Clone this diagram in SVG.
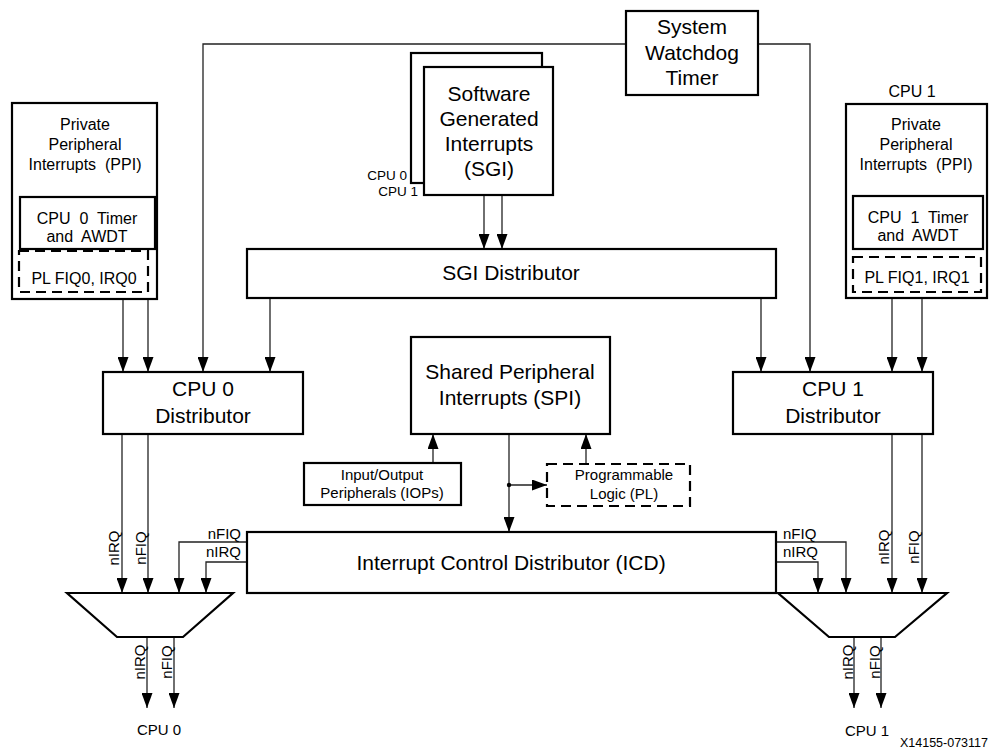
<svg xmlns="http://www.w3.org/2000/svg" width="990" height="750" viewBox="0 0 990 750">
<defs>
<marker id="ah" markerUnits="userSpaceOnUse" markerWidth="15" markerHeight="11" viewBox="0 0 15 11" refX="15" refY="5.5" orient="auto">
<path d="M0,0 L15,5.5 L0,11 z" fill="#000"/>
</marker>
<style>
.box{fill:#fff;stroke:#000;stroke-width:2.2}
.dash{fill:none;stroke:#000;stroke-width:2.2;stroke-dasharray:10,6}
.ln{fill:none;stroke:#222;stroke-width:1.3}
.ar{fill:none;stroke:#222;stroke-width:1.3;marker-end:url(#ah)}
text{font-family:"Liberation Sans",Arial,sans-serif;fill:#000}
.big{font-size:21px;text-anchor:middle}
.ppi{font-size:16px;text-anchor:middle}
.sm{font-size:15px}
.cpu{font-size:13.5px;text-anchor:end}
.mid{text-anchor:middle}
.end{text-anchor:end}
</style>
</defs>
<rect width="990" height="750" fill="#fff"/>

<g id="connectors">
<path class="ar" d="M123,299 V372"/>
<path class="ar" d="M148,299 V372"/>
<path class="ar" d="M626,44 H203 V372"/>
<path class="ar" d="M758,44 H810 V372"/>
<path class="ar" d="M484,195 V249"/>
<path class="ar" d="M502,195 V249"/>
<path class="ar" d="M270,298 V372"/>
<path class="ar" d="M761,298 V372"/>
<path class="ar" d="M892,298 V372"/>
<path class="ar" d="M922,298 V372"/>
<path class="ar" d="M122,434 V593"/>
<path class="ar" d="M148,434 V593"/>
<path class="ar" d="M247,542 H179 V593"/>
<path class="ar" d="M247,562 H206 V593"/>
<path class="ar" d="M776,542 H846 V593"/>
<path class="ar" d="M776,562 H818 V593"/>
<path class="ar" d="M892,434 V593"/>
<path class="ar" d="M922,434 V593"/>
<path class="ar" d="M147,637 V708"/>
<path class="ar" d="M174,637 V708"/>
<path class="ar" d="M854,637 V708"/>
<path class="ar" d="M881,637 V708"/>
<path class="ar" d="M433,463 V434"/>
<path class="ar" d="M586,463 V434"/>
<path class="ar" d="M509,434 V532"/>
<path class="ar" d="M509,485 H547"/>
<circle cx="509" cy="485" r="2.2" fill="#000"/>
<text class="sm mid" transform="translate(119,548) rotate(-90)">nIRQ</text>
<text class="sm mid" transform="translate(146,548) rotate(-90)">nFIQ</text>
<text class="sm mid" transform="translate(145,662) rotate(-90)">nIRQ</text>
<text class="sm mid" transform="translate(172,662) rotate(-90)">nFIQ</text>
<text class="sm mid" transform="translate(889,547) rotate(-90)">nIRQ</text>
<text class="sm mid" transform="translate(919,547) rotate(-90)">nFIQ</text>
<text class="sm mid" transform="translate(853,662) rotate(-90)">nIRQ</text>
<text class="sm mid" transform="translate(880,662) rotate(-90)">nFIQ</text>
<text class="sm end" x="241" y="539">nFIQ</text>
<text class="sm end" x="241" y="557">nIRQ</text>
<text class="sm" x="783" y="539">nFIQ</text>
<text class="sm" x="783" y="557">nIRQ</text>
</g>

<g id="ppi0">
<rect class="box" x="12" y="103" width="145" height="196"/>
<text class="ppi" x="85" y="130">Private</text>
<text class="ppi" x="85" y="150">Peripheral</text>
<text class="ppi" x="85" y="170" xml:space="preserve">Interrupts  (PPI)</text>
<rect class="box" x="20" y="197" width="135" height="52"/>
<text class="ppi" x="87" y="224" xml:space="preserve">CPU  0  Timer</text>
<text class="ppi" x="87" y="242" xml:space="preserve">and  AWDT</text>
<rect class="dash" x="19" y="251" width="129" height="41"/>
<text class="ppi" x="84" y="284">PL FIQ0, IRQ0</text>
</g>

<g id="ppi1">
<text class="ppi" x="912" y="97">CPU 1</text>
<rect class="box" x="846" y="104" width="141" height="194"/>
<text class="ppi" x="916" y="130">Private</text>
<text class="ppi" x="916" y="150">Peripheral</text>
<text class="ppi" x="916" y="170" xml:space="preserve">Interrupts  (PPI)</text>
<rect class="box" x="853" y="196" width="130" height="53"/>
<text class="ppi" x="918" y="223" xml:space="preserve">CPU  1  Timer</text>
<text class="ppi" x="918" y="241" xml:space="preserve">and  AWDT</text>
<rect class="dash" x="853" y="257" width="128" height="35"/>
<text class="ppi" x="917" y="283">PL FIQ1, IRQ1</text>
</g>

<g id="watchdog">
<rect class="box" x="626" y="11" width="132" height="84"/>
<text class="big" x="692" y="34">System</text>
<text class="big" x="692" y="60">Watchdog</text>
<text class="big" x="692" y="85">Timer</text>
</g>

<g id="sgi">
<rect class="box" x="411" y="53" width="131" height="130"/>
<rect class="box" x="424" y="67" width="129" height="128"/>
<text class="big" x="489" y="101">Software</text>
<text class="big" x="489" y="126">Generated</text>
<text class="big" x="489" y="151">Interrupts</text>
<text class="big" x="489" y="176">(SGI)</text>
<text class="cpu" x="407" y="180">CPU 0</text>
<text class="cpu" x="418" y="195.5">CPU 1</text>
</g>

<g id="sgi-distributor">
<rect class="box" x="247" y="249" width="529" height="49"/>
<text class="big" x="511" y="280">SGI Distributor</text>
</g>

<g id="cpu0-distributor">
<rect class="box" x="103" y="372" width="200" height="62"/>
<text class="big" x="203" y="396">CPU 0</text>
<text class="big" x="203" y="423">Distributor</text>
</g>

<g id="cpu1-distributor">
<rect class="box" x="733" y="372" width="200" height="62"/>
<text class="big" x="833" y="396">CPU 1</text>
<text class="big" x="833" y="423">Distributor</text>
</g>

<g id="spi">
<rect class="box" x="411" y="337" width="199" height="97"/>
<text class="big" x="510" y="379">Shared Peripheral</text>
<text class="big" x="510" y="405">Interrupts (SPI)</text>
</g>

<g id="iop">
<rect class="box" x="304" y="463" width="157" height="42"/>
<text class="sm mid" x="382" y="480">Input/Output</text>
<text class="sm mid" x="382" y="498">Peripherals (IOPs)</text>
</g>

<g id="pl">
<rect class="dash" x="547" y="464" width="143" height="42"/>
<text class="sm mid" x="624" y="480">Programmable</text>
<text class="sm mid" x="624" y="499">Logic (PL)</text>
</g>

<g id="icd">
<rect class="box" x="247" y="532" width="529" height="61"/>
<text class="big" x="511" y="570">Interrupt Control Distributor (ICD)</text>
</g>

<g id="mux0">
<polygon class="box" points="67,593 233,593 183,637 117,637"/>
<text class="sm mid" x="159" y="735">CPU 0</text>
</g>

<g id="mux1">
<polygon class="box" points="778,593 947,593 895,637 829,637"/>
<text class="sm mid" x="867" y="736">CPU 1</text>
</g>

<text x="988" y="747" font-size="12.5" text-anchor="end">X14155-073117</text>
</svg>
